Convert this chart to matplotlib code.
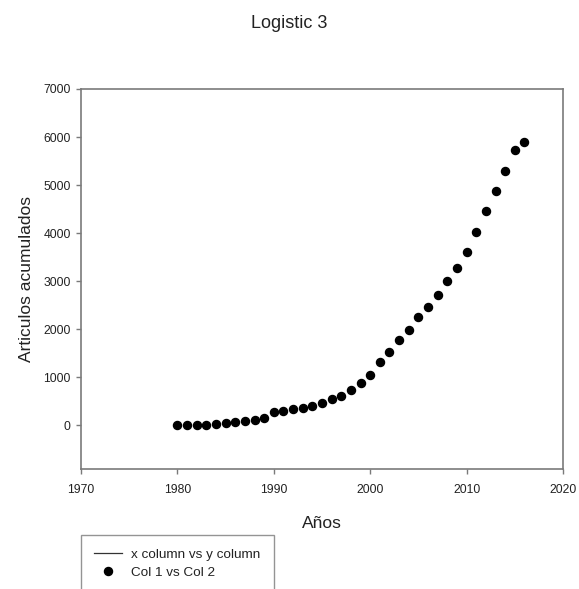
import matplotlib
matplotlib.use("Agg")
import matplotlib.pyplot as plt

plt.rcParams["font.family"] = ["Liberation Sans", "DejaVu Sans"]

# ---- DATA ----
years = list(range(1980, 2017))
articles = [0, 0, 0, 0, 20, 50, 70, 90, 110, 145,
            285, 305, 340, 370, 410, 460, 540, 620, 730, 875,
            1055, 1320, 1530, 1770, 1980, 2245, 2465, 2720, 3000, 3265,
            3605, 4015, 4465, 4875, 5300, 5720, 5900]
x_ticks = [1970, 1980, 1990, 2000, 2010, 2020]
y_ticks = [0, 1000, 2000, 3000, 4000, 5000, 6000, 7000]

text_col = "#222222"
spine_col = "#7a7a7a"

fig = plt.figure(figsize=(5.79, 5.89), dpi=100)
ax = fig.add_axes([0.1399, 0.2037, 0.8325, 0.6452])

# empty fit line only shows in legend
ax.plot([], [], color="#333333", lw=0.9, label="x column vs y column")
ax.plot(years, articles, linestyle="none", marker="o", markersize=5.8,
        color="black", label="Col 1 vs Col 2")

ax.set_xlim(1970, 2020)
ax.set_ylim(-910, 7000)
ax.set_xticks(x_ticks)
ax.set_yticks(y_ticks)

for side in ["left", "bottom", "top", "right"]:
    ax.spines[side].set_color(spine_col)
    ax.spines[side].set_linewidth(1.2)

ax.tick_params(axis="both", direction="out", length=3.5, width=1,
               color=spine_col, labelcolor=text_col, labelsize=8.7)
ax.tick_params(axis="x", pad=7)
ax.tick_params(axis="y", pad=4)

ax.set_xlabel("Años", fontsize=12.5, color=text_col, va="top")
ax.xaxis.set_label_coords(0.5, -0.124)
ax.set_ylabel("Articulos acumulados", fontsize=12.5, color=text_col)
ax.yaxis.set_label_coords(-0.097, 0.5)

fig.text(0.5, 1 - 24 / 589, "Logistic 3", ha="center", va="center",
         fontsize=13, color=text_col)

leg = fig.legend(loc="upper left", bbox_to_anchor=(80.7 / 579, 1 - 535 / 589),
                 borderaxespad=0, fontsize=9.7, numpoints=1, fancybox=False,
                 frameon=True, handlelength=2.1, handletextpad=0.65,
                 borderpad=1.0, labelspacing=0.42, labelcolor=text_col)
leg.get_frame().set_edgecolor(spine_col)
leg.get_frame().set_linewidth(1.0)

fig.savefig("out.png", dpi=100)
